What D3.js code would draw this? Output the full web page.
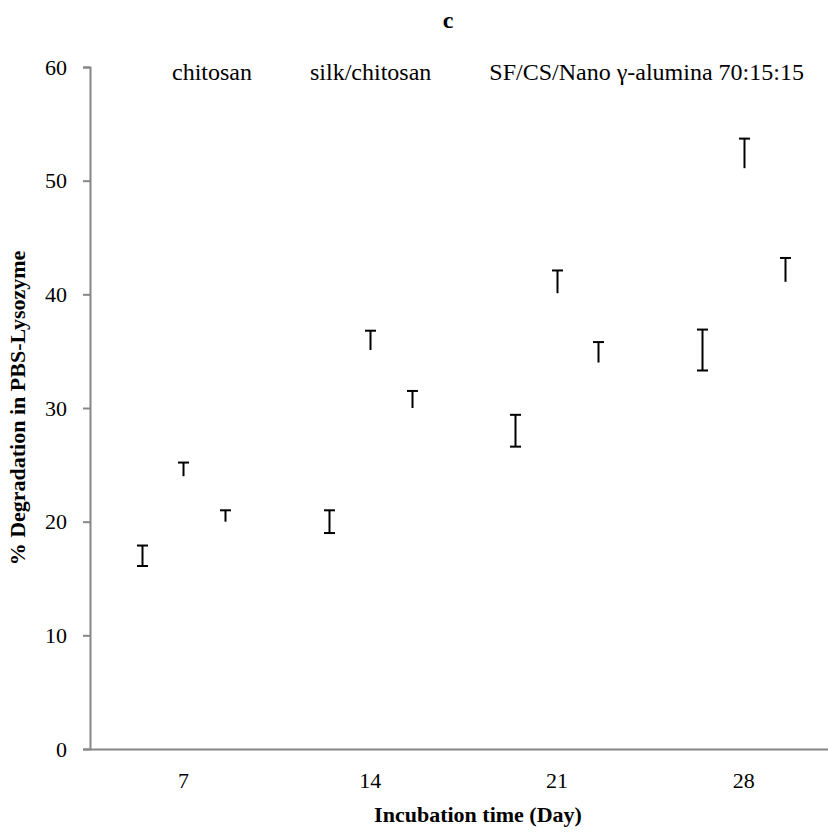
<!DOCTYPE html>
<html>
<head>
<meta charset="utf-8">
<script src="https://cdn.jsdelivr.net/npm/d3@7"></script>
<style>
  body { margin: 0; background: #fff; }
</style>
</head>
<body>
<svg id="chart" width="828" height="833"></svg>
<script>
// Incubation days (categories)
const days = ["7", "14", "21", "28"];
const seriesNames = ["chitosan", "silk/chitosan", "SF/CS/Nano γ-alumina 70:15:15"];

// Mean % degradation and standard deviation per series
const chitosan = [17.0, 20.0, 28.0, 35.1];
const chitosanErr = [0.9, 1.0, 1.4, 1.8];
const silkChitosan = [24.0, 35.1, 40.1, 51.1];
const silkChitosanErr = [1.2, 1.7, 2.0, 2.6];
const sfCsAlumina = [20.0, 30.0, 34.0, 41.1];
const sfCsAluminaErr = [1.0, 1.5, 1.8, 2.1];

// Error bar direction for each series
const errorSides = ["both", "plus", "plus"];

const yTicks = [0, 10, 20, 30, 40, 50, 60];

const series = [
  { name: seriesNames[0], values: chitosan, errs: chitosanErr, side: errorSides[0] },
  { name: seriesNames[1], values: silkChitosan, errs: silkChitosanErr, side: errorSides[1] },
  { name: seriesNames[2], values: sfCsAlumina, errs: sfCsAluminaErr, side: errorSides[2] }
];

const FONT = "'Liberation Serif', 'Times New Roman', Times, serif";
const svg = d3.select("#chart");
const W = 828;
const mLeft = 90, mTop = 67, mBottom = 749;
const plotRight = 837;

const y = d3.scaleLinear().domain([0, 60]).range([mBottom, mTop]);
const x0 = d3.scaleBand().domain(days).range([mLeft, plotRight])
  .paddingInner(1 / 3).paddingOuter(1 / 6);
const x1 = d3.scaleBand().domain(seriesNames).range([0, x0.bandwidth()]);

const axisColor = "#868686";

// Bars (white fill, as in the original chart)
const groups = svg.append("g").selectAll("g")
  .data(series).join("g");

groups.selectAll("rect")
  .data(s => s.values.map((v, i) => ({ s, v, day: days[i], e: s.errs[i] })))
  .join("rect")
  .attr("x", d => x0(d.day) + x1(d.s.name))
  .attr("width", x1.bandwidth())
  .attr("y", d => y(d.v))
  .attr("height", d => y(0) - y(d.v))
  .attr("fill", "#fff");

// Y axis
const yAxis = svg.append("g")
  .attr("transform", `translate(${mLeft},0)`)
  .call(d3.axisLeft(y).tickValues(yTicks).tickSize(7).tickPadding(16).tickFormat(d3.format("d")));
yAxis.select(".domain").attr("stroke", axisColor).attr("stroke-width", 2);
yAxis.selectAll(".tick line").attr("stroke", axisColor).attr("stroke-width", 2);
yAxis.selectAll(".tick text").style("font-size", "22px")
  .style("font-family", FONT).attr("fill", "#000");

// X axis
const xAxis = svg.append("g")
  .attr("transform", `translate(0,${mBottom})`)
  .call(d3.axisBottom(x0).tickSize(0).tickPadding(23));
xAxis.select(".domain").attr("stroke", axisColor).attr("stroke-width", 2);
xAxis.selectAll(".tick text").style("font-size", "22px")
  .style("font-family", FONT).attr("fill", "#000");

// Error bars
const capHalf = 5.5;
const eb = groups.selectAll("g.err")
  .data(s => s.values.map((v, i) => ({ s, v, day: days[i], e: s.errs[i] })))
  .join("g").attr("class", "err")
  .attr("stroke", "#000").attr("stroke-width", 2).attr("fill", "none");

eb.each(function (d) {
  const g = d3.select(this);
  const cx = Math.round(x0(d.day) + x1(d.s.name) + x1.bandwidth() / 2) + 0.5;
  const hi = y(d.v + d.e);
  const lo = d.s.side === "both" ? y(d.v - d.e) : y(d.v);
  g.append("line").attr("x1", cx).attr("x2", cx).attr("y1", hi).attr("y2", lo);
  g.append("line").attr("x1", cx - capHalf).attr("x2", cx + capHalf).attr("y1", hi).attr("y2", hi);
  if (d.s.side === "both") {
    g.append("line").attr("x1", cx - capHalf).attr("x2", cx + capHalf).attr("y1", lo).attr("y2", lo);
  }
});

// Legend (white-bar symbols are invisible, only labels show)
const legend = svg.append("g").attr("class", "legend");
let lx = 172;
seriesNames.forEach(name => {
  const t = legend.append("text")
    .attr("x", lx).attr("y", 80)
    .style("font-family", FONT)
    .style("font-size", "24px")
    .attr("fill", "#000")
    .text(name);
  lx += t.node().getComputedTextLength() + 58;
});

// Title
svg.append("text")
  .attr("x", 448).attr("y", 28)
  .attr("text-anchor", "middle")
  .style("font-family", FONT)
  .style("font-size", "24px").style("font-weight", "bold")
  .text("c");

// Axis titles
svg.append("text")
  .attr("x", (mLeft + W) / 2 + 19).attr("y", 822)
  .attr("text-anchor", "middle")
  .style("font-family", FONT)
  .style("font-size", "22px").style("font-weight", "bold")
  .text("Incubation time (Day)");

svg.append("text")
  .attr("transform", `translate(25,${(mTop + mBottom) / 2}) rotate(-90)`)
  .attr("text-anchor", "middle")
  .style("font-family", FONT)
  .style("font-size", "22px").style("font-weight", "bold")
  .text("% Degradation in PBS-Lysozyme");
</script>
</body>
</html>
